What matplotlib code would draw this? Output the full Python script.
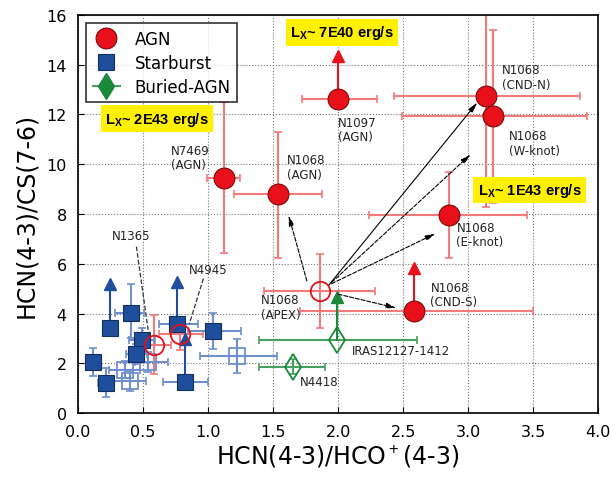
import matplotlib
matplotlib.use("Agg")
import matplotlib.pyplot as plt
from matplotlib.lines import Line2D

plt.rcParams['font.family'] = ['DejaVu Sans']
plt.rcParams['mathtext.fontset'] = 'custom'
plt.rcParams['mathtext.rm'] = 'Liberation Sans'
plt.rcParams['mathtext.bf'] = 'Liberation Sans:bold'

# ---------------- data ----------------
# AGN (filled)
agn_names = ["N7469", "N1068 AGN", "N1097", "CND-N", "W-knot", "E-knot", "CND-S"]
agn_x = [1.12, 1.54, 2.00, 3.14, 3.19, 2.85, 2.58]
agn_y = [9.43, 8.80, 12.64, 12.74, 11.94, 7.96, 4.11]
agn_xlo = [0.13, 0.34, 0.28, 0.71, 0.70, 0.61, 0.87]
agn_xhi = [0.13, 0.34, 0.30, 0.72, 0.72, 0.60, 0.92]
agn_ylo = [3.00, 2.55, 0.0, 4.47, 3.48, 1.71, 0.0]
agn_yhi = [3.05, 2.50, 0.0, 4.47, 3.46, 1.71, 0.0]
agn_lim = [None, None, 14.35, None, None, None, 5.85]

# AGN (open)
agno_x = [1.86, 0.585, 0.785]
agno_y = [4.91, 2.73, 3.17]
agno_xlo = [0.43, 0.14, 0.16]
agno_xhi = [0.42, 0.13, 0.18]
agno_ylo = [1.47, 1.16, 0.65]
agno_yhi = [1.47, 1.20, 0.45]

# Starburst (filled)
sb_x = [0.246, 0.405, 0.49, 0.45, 0.113, 0.215, 0.76, 1.035, 0.823]
sb_y = [3.44, 4.02, 2.94, 2.37, 2.06, 1.20, 3.57, 3.30, 1.27]
sb_xlo = [0.0, 0.12, 0.10, 0.08, 0.05, 0.06, 0.14, 0.19, 0.17]
sb_xhi = [0.0, 0.10, 0.10, 0.08, 0.05, 0.06, 0.16, 0.22, 0.18]
sb_ylo = [0.0, 1.00, 0.50, 0.40, 0.56, 0.56, 0.0, 0.73, 0.0]
sb_yhi = [0.0, 1.16, 0.50, 0.40, 0.54, 0.60, 0.0, 0.72, 0.0]
sb_lim = [5.18, None, None, None, None, None, 5.25, None, 2.97]

# Starburst (open)
sbo_x = [0.36, 0.40, 0.54, 1.22]
sbo_y = [1.75, 1.30, 2.05, 2.30]
sbo_xlo = [0.12, 0.12, 0.10, 0.28]
sbo_xhi = [0.12, 0.12, 0.15, 0.31]
sbo_ylo = [0.35, 0.40, 0.40, 0.67]
sbo_yhi = [0.35, 0.40, 0.40, 0.67]

# Buried AGN (open)
bur_x = [1.99, 1.65]
bur_y = [2.93, 1.87]
bur_xlo = [0.60, 0.26]
bur_xhi = [0.62, 0.25]
bur_ylo = [0.0, 0.30]
bur_yhi = [0.0, 0.30]
bur_lim = [4.68, None]

# labels
lab_text = ["N7469\n(AGN)", "N1068\n(AGN)", "N1097\n(AGN)", "N1068\n(CND-N)",
            "N1068\n(W-knot)", "N1068\n(E-knot)", "N1068\n(CND-S)", "N1068\n(APEX)",
            "IRAS12127-1412", "N4418"]
lab_x = [1.01, 1.61, 2.00, 3.26, 3.31, 2.91, 2.71, 1.41, 2.105, 1.71]
lab_y = [10.28, 9.88, 11.40, 13.50, 10.86, 7.17, 4.76, 4.26, 2.53, 1.27]
lab_ha = ["right", "left", "left", "left", "left", "left", "left", "left", "left", "left"]

# pointer labels
ptr_text = ["N1365", "N4945"]
ptr_tx = [0.41, 1.00]
ptr_ty = [7.15, 5.78]
ptr_x0 = [0.45, 0.965]
ptr_y0 = [6.69, 5.41]
ptr_x1 = [0.55, 0.856]
ptr_y1 = [2.97, 3.57]

# yellow boxes
box_text = [r"L$_\mathbf{X}$~ 7E40 erg/s", r"L$_\mathbf{X}$~ 2E43 erg/s", r"L$_\mathbf{X}$~ 1E43 erg/s"]
box_x = [2.03, 0.61, 3.47]
box_y = [15.3, 11.83, 8.96]

# arrows from APEX
arr_x0 = [1.76, 1.93, 1.95, 1.95, 2.00]
arr_y0 = [5.31, 5.15, 5.25, 5.20, 4.78]
arr_x1 = [1.62, 3.07, 3.02, 2.75, 2.45]
arr_y1 = [7.95, 12.48, 10.40, 7.22, 4.22]
arr_ls = ["--", "-", "--", "--", "--"]

# ---------------- style ----------------
RED = "#e8101a"
RED_E = "#f27a7a"
BLUE = "#1f4e9c"
BLUE_E = "#6e8fcc"
GREEN = "#1a8a3a"
GREEN_E = "#4aa05e"

fig = plt.figure(figsize=(6.13, 4.81), dpi=100)
ax = fig.add_axes([0.127, 0.139, 0.849, 0.828])


def limits(xs, ys, lims, color):
    for x, y, l in zip(xs, ys, lims):
        if l is not None:
            ax.plot([x, x], [y, l], color=color, lw=1.5, zorder=2)
            ax.plot([x], [l], marker="^", color=color, ms=9, zorder=3, ls="none")


# error bars
ax.errorbar(agn_x, agn_y, xerr=[agn_xlo, agn_xhi], yerr=[agn_ylo, agn_yhi],
            fmt="none", ecolor=RED_E, elinewidth=1.5, capsize=3, capthick=1.2, zorder=2)
ax.errorbar(agno_x, agno_y, xerr=[agno_xlo, agno_xhi], yerr=[agno_ylo, agno_yhi],
            fmt="none", ecolor=RED_E, elinewidth=1.5, capsize=3, capthick=1.2, zorder=2)
ax.errorbar(sb_x, sb_y, xerr=[sb_xlo, sb_xhi], yerr=[sb_ylo, sb_yhi],
            fmt="none", ecolor=BLUE_E, elinewidth=1.5, capsize=3, capthick=1.2, zorder=2)
ax.errorbar(sbo_x, sbo_y, xerr=[sbo_xlo, sbo_xhi], yerr=[sbo_ylo, sbo_yhi],
            fmt="none", ecolor=BLUE_E, elinewidth=1.5, capsize=3, capthick=1.2, zorder=2)
ax.errorbar(bur_x, bur_y, xerr=[bur_xlo, bur_xhi], yerr=[bur_ylo, bur_yhi],
            fmt="none", ecolor=GREEN_E, elinewidth=1.5, capsize=3, capthick=1.2, zorder=2)

limits(agn_x, agn_y, agn_lim, RED)
limits(sb_x, sb_y, sb_lim, BLUE)
limits(bur_x, bur_y, bur_lim, GREEN)

# markers
ax.plot(sbo_x, sbo_y, ls="none", marker="s", ms=11, mfc="none", mec=BLUE_E, mew=1.3, zorder=4)
ax.plot(sb_x, sb_y, ls="none", marker="s", ms=11, mfc=BLUE, mec="#12305e", mew=0.8, zorder=5)
ax.plot(agno_x, agno_y, ls="none", marker="o", ms=14, mfc="none", mec=RED, mew=1.3, zorder=6)
ax.plot(agn_x, agn_y, ls="none", marker="o", ms=15, mfc=RED, mec="#7a0a0a", mew=0.8, zorder=6)
ax.plot(bur_x, bur_y, ls="none", marker="d", ms=13, mfc="none", mec=GREEN, mew=1.3, zorder=6)

# arrows
for x0, y0, x1, y1, ls in zip(arr_x0, arr_y0, arr_x1, arr_y1, arr_ls):
    ax.annotate("", xy=(x1, y1), xytext=(x0, y0),
                arrowprops=dict(arrowstyle="-|>,head_length=0.6,head_width=0.15",
                                color="black", lw=0.8, ls=ls, shrinkA=0, shrinkB=0),
                zorder=7)

# labels
for t, x, y, ha in zip(lab_text, lab_x, lab_y, lab_ha):
    ax.text(x, y, t, ha=ha, va="center", fontsize=8.5, color="#222222",
            linespacing=1.15, multialignment="left", zorder=8)

for t, tx, ty, x0, y0, x1, y1 in zip(ptr_text, ptr_tx, ptr_ty, ptr_x0, ptr_y0, ptr_x1, ptr_y1):
    ax.text(tx, ty, t, ha="center", va="center", fontsize=8.5, color="#222222", zorder=8)
    ax.plot([x0, x1], [y0, y1], color="#333333", lw=0.9, ls="--", zorder=7)

for t, x, y in zip(box_text, box_x, box_y):
    ax.text(x, y, t, ha="center", va="center", fontsize=10.5, fontweight="bold",
            family="Liberation Sans", color="black", zorder=9,
            bbox=dict(boxstyle="square,pad=0.3", fc="#fff000", ec="none"))

# legend
handles = [
    Line2D([], [], ls="none", marker="o", ms=15, mfc=RED, mec="#7a0a0a", mew=0.8),
    Line2D([], [], ls="none", marker="s", ms=11, mfc=BLUE, mec="#12305e", mew=0.8),
    Line2D([], [], ls="-", color=GREEN_E, lw=1.5, marker="d", ms=13, mfc=GREEN, mec=GREEN),
]
leg = ax.legend(handles, ["AGN", "Starburst", "Buried-AGN"], loc="upper left",
                fontsize=12, frameon=True, fancybox=False, edgecolor="black",
                borderaxespad=0.5, handlelength=1.6, handletextpad=0.9,
                borderpad=0.4, labelspacing=0.35)
leg.get_frame().set_linewidth(1.2)
leg.set_zorder(10)

ax.set_xlim(0, 4)
ax.set_ylim(0, 16)
ax.set_xticks([0, 0.5, 1.0, 1.5, 2.0, 2.5, 3.0, 3.5, 4.0])
ax.set_yticks([0, 2, 4, 6, 8, 10, 12, 14, 16])
ax.tick_params(labelsize=11.5, length=4, direction="in", pad=8)
ax.grid(True, ls=":", color="#777777", lw=0.8)
ax.set_axisbelow(True)
ax.set_xlabel(r"HCN(4-3)/HCO$^+$(4-3)", fontsize=17, labelpad=2)
ax.set_ylabel("HCN(4-3)/CS(7-6)", fontsize=17, labelpad=6)
for s in ax.spines.values():
    s.set_linewidth(1.2)

fig.savefig("out.png", dpi=100)
